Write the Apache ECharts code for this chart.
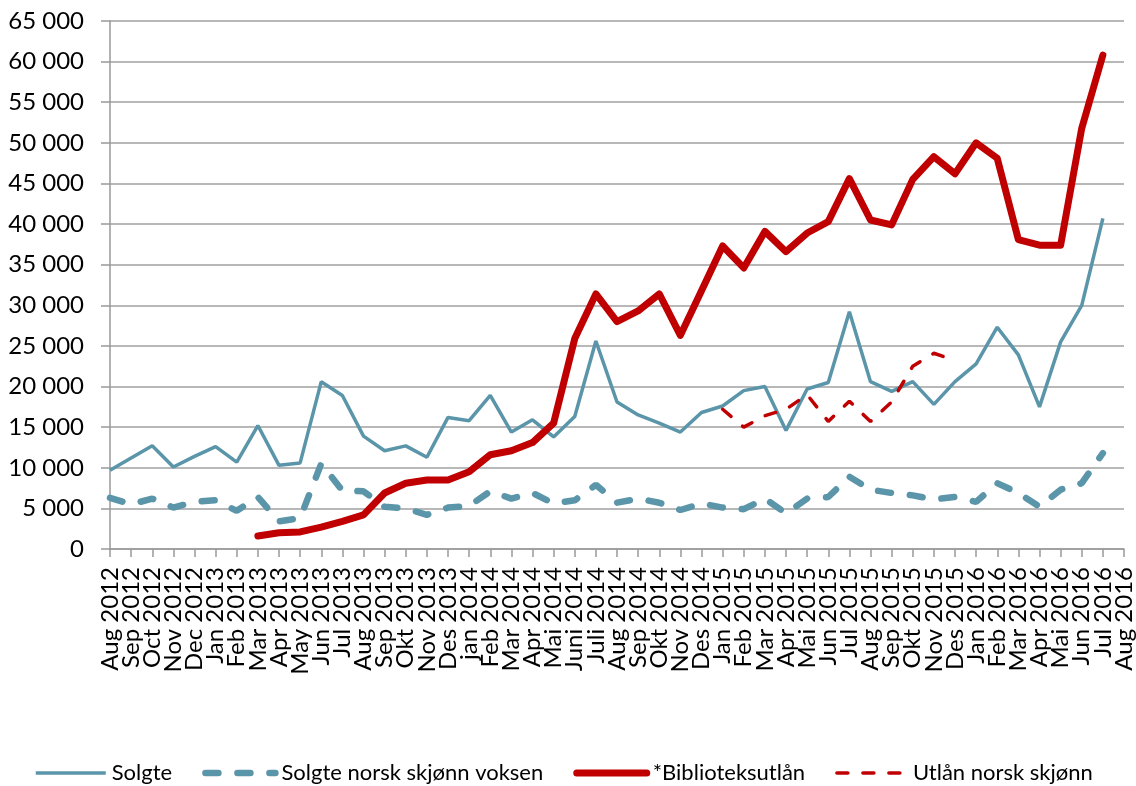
<!DOCTYPE html>
<html>
<head>
<meta charset="utf-8">
<script src="https://cdn.jsdelivr.net/npm/echarts@6/dist/echarts.min.js"></script>
<style>
  html, body { margin: 0; padding: 0; background: #fff; }
  #chart { width: 1136px; height: 786px; }
</style>
</head>
<body>
<div id="chart"></div>
<script>
// months on the x axis (Aug 2012 .. Aug 2016)
const months = [
  "Aug 2012", "Sep 2012", "Oct 2012", "Nov 2012", "Dec 2012",
  "Jan 2013", "Feb 2013", "Mar 2013", "Apr 2013", "May 2013", "Jun 2013", "Jul 2013",
  "Aug 2013", "Sep 2013", "Okt 2013", "Nov 2013", "Des 2013",
  "jan 2014", "Feb 2014", "Mar 2014", "Apr 2014", "Mai 2014", "Juni 2014", "Juli 2014",
  "Aug 2014", "Sep 2014", "Okt 2014", "Nov 2014", "Des 2014",
  "Jan 2015", "Feb 2015", "Mar 2015", "Apr 2015", "Mai 2015", "Jun 2015", "Jul 2015",
  "Aug 2015", "Sep 2015", "Okt 2015", "Nov 2015", "Des 2015",
  "Jan 2016", "Feb 2016", "Mar 2016", "Apr 2016", "Mai 2016", "Jun 2016", "Jul 2016",
  "Aug 2016"
]

const solgte = [
  9700, 11200, 12700, 10100, 11400, 12600, 10700, 15200, 10300, 10600, 20600, 18900,
  13900, 12100, 12700, 11300, 16200, 15800, 18900, 14400, 15900, 13800, 16300, 25600,
  18100, 16500, 15500, 14400, 16800, 17600, 19500, 20000, 14600, 19700, 20500, 29200,
  20600, 19400, 20600, 17800, 20600, 22800, 27300, 23900, 17500, 25500, 30000, 40700
]

const solgteNorsk = [
  6300, 5500, 6200, 5100, 5800, 6000, 4700, 6400, 3400, 3800, 10500, 7200,
  7100, 5200, 5000, 4200, 5100, 5300, 7100, 6200, 6900, 5600, 6000, 7900,
  5700, 6200, 5700, 4800, 5600, 5100, 4900, 6200, 4400, 6200, 6400, 8900,
  7300, 6900, 6600, 6100, 6400, 5800, 8100, 6900, 5200, 7300, 8100, 11800
]

const bibliotek = [
  null, null, null, null, null, null, null, 1600, 2000, 2100, 2700, 3400,
  4200, 6900, 8100, 8500, 8500, 9500, 11600, 12100, 13100, 15500, 25900, 31400,
  28000, 29300, 31400, 26300, 31800, 37300, 34600, 39100, 36600, 38900, 40300, 45600,
  40500, 39900, 45500, 48300, 46200, 50000, 48100, 38100, 37400, 37400, 51800, 60800
]

const utlanNorsk = [
  null, null, null, null, null, null, null, null, null, null, null, null,
  null, null, null, null, null, null, null, null, null, null, null, null,
  null, null, null, null, null, 17200, 15000, 16400, 17200, 19000, 15700, 18200,
  15700, 18100, 22500, 24100, 23200, null, null, null, null, null, null, null
]

const seriesNames = ["Solgte", "Solgte norsk skjønn voksen", "*Biblioteksutlån", "Utlån norsk skjønn"]

const BLUE = "#5b95a9"
const RED = "#c00000"
const FONT = "Lato"

const chart = echarts.init(document.getElementById("chart"))

chart.setOption({
  animation: false,
  textStyle: { fontFamily: FONT, color: "#000" },
  grid: { left: 110, right: 11, top: 21, bottom: 237, containLabel: false },
  legend: {
    left: 29,
    bottom: -3,
    itemWidth: 70,
    itemHeight: 14,
    itemGap: 30,
    textStyle: { fontFamily: FONT, fontSize: 22, color: "#000", padding: [0, 0, 0, 1] },
    lineStyle: { width: "inherit" },
    itemStyle: { opacity: 0 },   // hide the circle that line legends add
    data: seriesNames
  },
  xAxis: {
    type: "category",
    data: months,
    boundaryGap: false,
    axisLine: { lineStyle: { color: "#999", width: 1.5 } },
    axisTick: { length: 8, lineStyle: { color: "#999", width: 1.5 } },
    axisLabel: { interval: 0, rotate: 90, margin: 18, fontSize: 24, color: "#000", fontFamily: FONT }
  },
  yAxis: {
    type: "value",
    min: 0,
    max: 65000,
    interval: 5000,
    axisLine: { show: true, lineStyle: { color: "#999", width: 1.5 } },
    axisTick: { show: true, length: 9, lineStyle: { color: "#999", width: 1.5 } },
    splitLine: { lineStyle: { color: "#a0a0a0", width: 1.5 } },
    axisLabel: {
      margin: 26,
      fontSize: 24,
      color: "#000",
      fontFamily: FONT,
      formatter: v => v === 0 ? "0" : (v / 1000) + " 000"
    }
  },
  series: [
    {
      name: seriesNames[0], type: "line", data: solgte, symbol: "none",
      lineStyle: { color: BLUE, width: 3.5 }, itemStyle: { color: BLUE }
    },
    {
      name: seriesNames[1], type: "line", data: solgteNorsk, symbol: "none",
      lineStyle: { color: BLUE, width: 6.5, type: [13, 19], cap: "round" }, itemStyle: { color: BLUE }
    },
    {
      name: seriesNames[2], type: "line", data: bibliotek, symbol: "none",
      lineStyle: { color: RED, width: 7, join: "round", cap: "round" }, itemStyle: { color: RED }
    },
    {
      name: seriesNames[3], type: "line", data: utlanNorsk, symbol: "none",
      lineStyle: { color: RED, width: 3.5, type: [11, 15], cap: "round" }, itemStyle: { color: RED }
    }
  ]
})
</script>
</body>
</html>
